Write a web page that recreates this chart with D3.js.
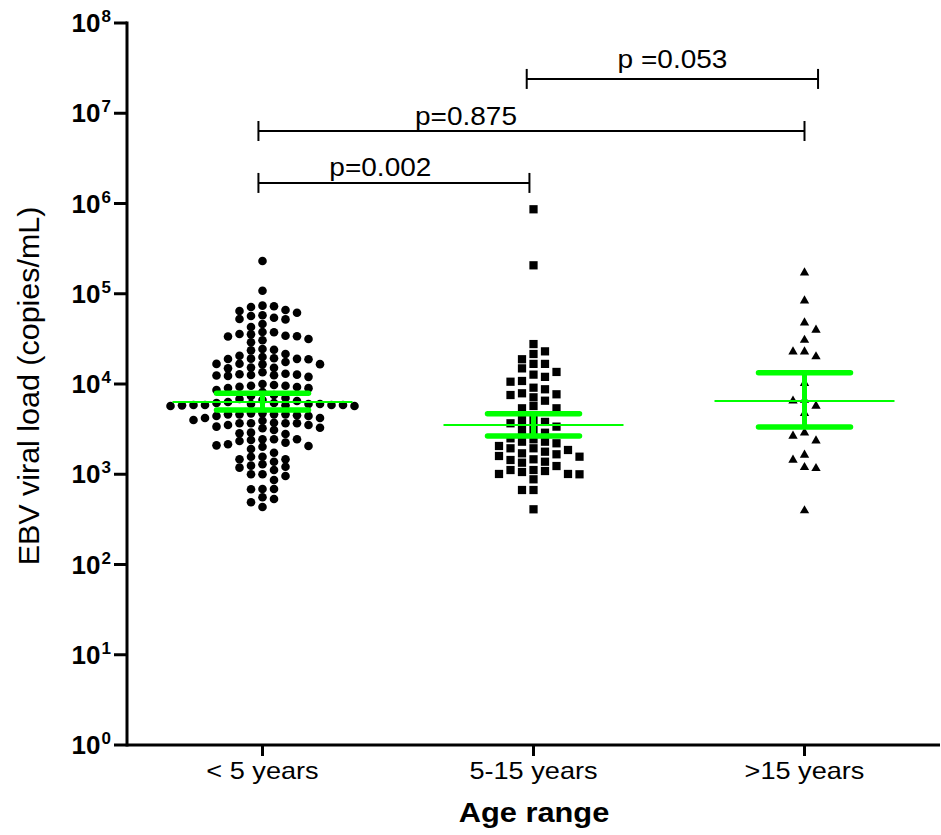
<!DOCTYPE html>
<html><head><meta charset="utf-8">
<script src="https://cdn.jsdelivr.net/npm/d3@7"></script>
<style>body{margin:0;background:#fff}svg{display:block}</style>
</head><body><svg id="c" width="941" height="835"></svg>
<script>
// ---------------- data ----------------
const categories = ["< 5 years", "5-15 years", ">15 years"];
const under5 = [
 231000, 108000,
 73800, 72600, 71300, 66100, 64400, 61700, 57700, 56700, 54300, 52500, 52000,
 46200, 42800, 37700, 37500, 35800, 35500, 34300, 33800, 33600, 31500, 30500, 29000,
 24400, 24000, 23600, 21500, 20600, 19900, 19300, 19100, 19000, 18900, 18800,
 17500, 16800, 16700, 16600, 16500, 15200, 15100, 14900,
 13500, 13000, 12800, 12700, 12600, 12500, 12400, 12300, 12000,
 10000, 9750, 9580, 9550, 9340, 9270, 9030, 9000, 8590,
 8150, 7550, 7360, 7000, 6820, 6650,
 6000, 5850, 5850, 6000, 5700, 5700, 6160, 6480, 6320, 5850, 5850, 5800, 5800, 6000, 6160,
 4730, 4610, 4610, 4500, 4420, 3990, 4200, 4200, 4420, 4610, 4610, 4730,
 3670, 3670, 3515, 3280, 3090, 3920, 3670, 3720, 3230, 3370, 3515, 3670,
 2790, 2840, 2890,
 2440, 2440, 2335, 2150, 2060, 1905, 2020, 2090, 2240, 2400, 2440,
 1730, 1565, 1465, 1375, 1465, 1565,
 1245, 1183, 1000, 956, 1000, 1114, 1213, 1290,
 863, 687, 681, 687, 532, 489, 555, 434
];
const age5to15 = [
 863000, 206600, 27700, 23000, 21500, 18800, 16700, 16700, 14900, 13600, 12700, 12000,
 10800, 10600, 9100, 8740, 7890, 7690, 7550, 7120, 6530, 5700, 5380, 5380,
 3990, 3990, 3800, 3670, 3370, 3090, 3090, 2885, 2500, 2440, 2295, 2295, 2203, 2056,
 1939, 1939, 1857, 1778, 1706, 1664, 1593, 1565, 1464, 1438, 1377, 1343, 1233,
 1114, 1114, 1086, 1059, 1007, 1007, 999, 879, 669, 669, 409
];
const over15 = [
 171000, 83800, 47800, 39700, 30700, 22800, 22800, 20100, 10200, 6650, 6500, 5700,
 4730, 2885, 2655, 2354, 1634, 1438, 1194, 1164, 395
];
const medians = [6310, 3515, 6480];
const ciUpper = [7890, 4690, 13340];
const ciLower = [5140, 2655, 3340];
const yTickExponents = [0, 1, 2, 3, 4, 5, 6, 7, 8];

// significance brackets (x in category units: 1,2,3 ; y in copies/mL)
const pLabels = ["p=0.002", "p=0.875", "p =0.053"];
const pFrom   = [0.985, 0.985, 1.975];
const pTo     = [1.985, 3.0, 3.05];
const pLevel  = [1.69e6, 6.36e6, 2.40e7];
const pTextX  = [1.435, 1.751, 2.513];
const pTextY  = [2.02e6, 7.41e6, 3.17e7];

// ---------------- drawing ----------------
const svg = d3.select("#c");
const FONT = "'Liberation Sans', Arial, Helvetica, sans-serif";
const GREEN = "#00ff00";

const x = d3.scaleLinear().domain([0.5, 3.5]).range([127, 940]);
const y = d3.scaleLog().domain([1, 1e8]).range([745, 23]);

// beeswarm layout on a fixed horizontal grid
function swarm(vals, step, gap) {
  const pts = vals.map(v => ({v, py: y(v)})).sort((a, b) => a.py - b.py);
  const cols = new Map();
  let flip = 1;
  pts.forEach(p => {
    for (let k = 0; k < 60; k++) {
      const cands = k === 0 ? [0] : [k * flip, -k * flip];
      let done = false;
      for (const c of cands) {
        const arr = cols.get(c) || [];
        if (arr.every(yy => Math.abs(yy - p.py) >= gap)) {
          arr.push(p.py); cols.set(c, arr); p.col = c; done = true;
          if (c !== 0) flip = -flip;
          break;
        }
      }
      if (done) break;
    }
  });
  return pts.map(p => ({v: p.v, dx: p.col * step}));
}

const groups = [under5, age5to15, over15];
const shapes = [d3.symbolCircle, d3.symbolSquare, d3.symbolTriangle];
const sizes = [58, 68, 38];
const gaps = [7.2, 8.6, 8];

groups.forEach((vals, i) => {
  const pts = swarm(vals, 11.5, gaps[i]);
  svg.append("g").selectAll("path").data(pts).join("path")
    .attr("d", d3.symbol().type(shapes[i]).size(sizes[i]))
    .attr("transform", d => `translate(${x(i + 1) + d.dx},${y(d.v)})`)
    .attr("fill", "#000");
});

// median + error bars (green)
const eb = svg.append("g").attr("stroke", GREEN).attr("fill", "none");
categories.forEach((c, i) => {
  const cx = x(i + 1);
  eb.append("line").attr("x1", cx - 90).attr("x2", cx + 90)
    .attr("y1", y(medians[i])).attr("y2", y(medians[i])).attr("stroke-width", 2);
  eb.append("line").attr("x1", cx).attr("x2", cx)
    .attr("y1", y(ciLower[i])).attr("y2", y(ciUpper[i])).attr("stroke-width", 5);
  [ciUpper[i], ciLower[i]].forEach(v => {
    eb.append("line").attr("x1", cx - 46).attr("x2", cx + 46)
      .attr("y1", y(v)).attr("y2", y(v)).attr("stroke-width", 5.5)
      .attr("stroke-linecap", "round");
  });
});

// y axis
const yAxis = svg.append("g");
yAxis.append("line").attr("x1", 127).attr("x2", 127).attr("y1", y(1e8) - 1.5).attr("y2", y(1) + 1.5)
  .attr("stroke", "#000").attr("stroke-width", 3);
yTickExponents.forEach(e => {
  const v = Math.pow(10, e);
  yAxis.append("line").attr("x1", 114).attr("x2", 127).attr("y1", y(v)).attr("y2", y(v))
    .attr("stroke", "#000").attr("stroke-width", 3);
  const t = yAxis.append("text").attr("x", 111).attr("y", y(v) + 9)
    .attr("text-anchor", "end").attr("font-family", FONT).attr("font-weight", "bold")
    .attr("font-size", 26).attr("fill", "#000");
  t.append("tspan").text("10");
  t.append("tspan").attr("font-size", 17).attr("dx", 1).attr("dy", -10).text(e);
});

// x axis
const xAxis = svg.append("g");
xAxis.append("line").attr("x1", 127).attr("x2", 940).attr("y1", 745).attr("y2", 745)
  .attr("stroke", "#000").attr("stroke-width", 3);
categories.forEach((c, i) => {
  xAxis.append("line").attr("x1", x(i + 1)).attr("x2", x(i + 1)).attr("y1", 745).attr("y2", 756)
    .attr("stroke", "#000").attr("stroke-width", 3);
  const t = xAxis.append("text").attr("x", x(i + 1)).attr("y", 779)
    .attr("text-anchor", "middle").attr("font-family", FONT).attr("font-size", 24)
    .attr("fill", "#000").text(c);
  const w = t.node().getComputedTextLength();
  t.attr("textLength", w * 1.13).attr("lengthAdjust", "spacingAndGlyphs");
});

// axis titles
const xt = svg.append("text").attr("x", 534).attr("y", 822).attr("text-anchor", "middle")
  .attr("font-family", FONT).attr("font-weight", "bold").attr("font-size", 28).text("Age range");
xt.attr("textLength", xt.node().getComputedTextLength() * 1.1).attr("lengthAdjust", "spacingAndGlyphs");

const yt = svg.append("text").attr("transform", "translate(39,386) rotate(-90)")
  .attr("text-anchor", "middle").attr("font-family", FONT).attr("font-size", 29)
  .text("EBV viral load (copies/mL)");
yt.attr("textLength", yt.node().getComputedTextLength() * 1.05).attr("lengthAdjust", "spacingAndGlyphs");

// significance brackets
const br = svg.append("g");
pLabels.forEach((lab, i) => {
  const x1 = x(pFrom[i]), x2 = x(pTo[i]), yy = y(pLevel[i]);
  br.append("line").attr("x1", x1).attr("x2", x2).attr("y1", yy).attr("y2", yy)
    .attr("stroke", "#000").attr("stroke-width", 2);
  [x1, x2].forEach(xx => br.append("line").attr("x1", xx).attr("x2", xx)
    .attr("y1", yy - 10).attr("y2", yy + 10).attr("stroke", "#000").attr("stroke-width", 2));
  const t = br.append("text").attr("x", x(pTextX[i])).attr("y", y(pTextY[i]))
    .attr("text-anchor", "middle").attr("font-family", FONT).attr("font-size", 25).text(lab);
  t.attr("textLength", t.node().getComputedTextLength() * 1.12).attr("lengthAdjust", "spacingAndGlyphs");
});
</script>
</body></html>
